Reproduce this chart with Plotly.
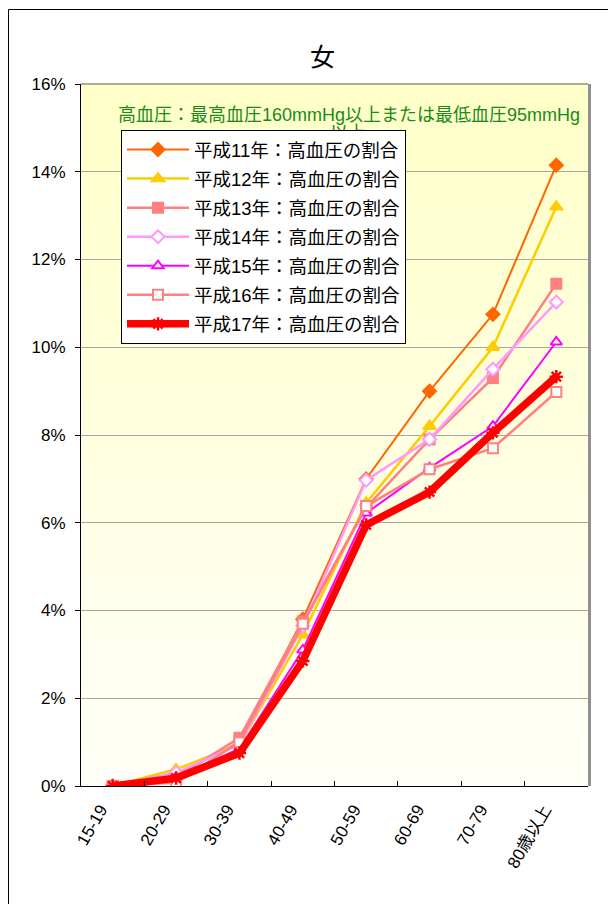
import plotly.graph_objects as go

ages = ["15-19", "20-29", "30-39", "40-49", "50-59", "60-69", "70-79", "80歳以上"]
h11 = [0.0, 0.25, 1.0, 3.8, 7.0, 9.0, 10.75, 14.15]
h12 = [0.0, 0.38, 0.95, 3.45, 6.45, 8.2, 10.0, 13.2]
h13 = [0.0, 0.2, 1.1, 3.75, 6.35, 7.9, 9.3, 11.45]
h14 = [0.0, 0.3, 0.95, 3.65, 6.97, 7.9, 9.5, 11.03]
h15 = [0.0, 0.2, 0.85, 3.1, 6.22, 7.25, 8.2, 10.12]
h16 = [0.0, 0.08, 1.0, 3.7, 6.38, 7.22, 7.7, 8.98]
h17 = [0.0, 0.18, 0.75, 2.85, 5.95, 6.7, 8.05, 9.33]
names = ["平成11年：高血圧の割合", "平成12年：高血圧の割合", "平成13年：高血圧の割合",
         "平成14年：高血圧の割合", "平成15年：高血圧の割合", "平成16年：高血圧の割合",
         "平成17年：高血圧の割合"]
y_ticks = [0, 2, 4, 6, 8, 10, 12, 14, 16]
y_ticktext = ["0%", "2%", "4%", "6%", "8%", "10%", "12%", "14%", "16%"]
note_line1 = "高血圧：最高血圧160mmHg以上または最低血圧95mmHg"
note_line2 = "以上"

FONT = "Liberation Sans, Arial, Noto Sans CJK JP, sans-serif"

styles = [
    dict(color="#FF6600", width=2, symbol="diamond", size=10, fill="#FF6600"),
    dict(color="#FFCC00", width=2.5, symbol="triangle-up", size=11, fill="#FFCC00"),
    dict(color="#FF8080", width=2.5, symbol="square", size=10, fill="#FF8080"),
    dict(color="#FF99FF", width=2.5, symbol="diamond", size=10, fill="#FFFFFF"),
    dict(color="#FF00FF", width=2, symbol="triangle-up", size=10, fill="#FFFFFF"),
    dict(color="#FF8080", width=2.5, symbol="square", size=10, fill="#FFFFFF"),
    dict(color="#FF0000", width=7.5, symbol="asterisk-open", size=11, fill="#FF0000"),
]
series = [h11, h12, h13, h14, h15, h16, h17]

L, R, T, B = 81, 20, 84, 118
W, H = 608, 904
pw, ph = W - L - R, H - T - B


def px(xp):
    return (xp - L) / pw


def py(yp):
    return (H - B - yp) / ph


fig = go.Figure()
# second line of the note, drawn as a trace so that the legend covers it
fig.add_trace(go.Scatter(
    x=[px(348)], y=[py(134)], mode="text", text=[note_line2], showlegend=False,
    textfont=dict(size=18, family=FONT, color="#1A8A1A"), hoverinfo="skip",
    xaxis="x2", yaxis="y2", cliponaxis=False,
))
for i, (vals, nm, st) in enumerate(zip(series, names, styles)):
    fig.add_trace(go.Scatter(
        x=ages, y=vals, name=nm, mode="lines+markers", legendgroup=str(i),
        line=dict(color=st["color"], width=st["width"]),
        marker=dict(symbol=st["symbol"], size=st["size"], color=st["fill"],
                    line=dict(color=st["color"], width=2.5 if i == 6 else 2)),
    ))

shapes = []
# gradient background
n = 60
top = (255, 255, 200)
bot = (255, 255, 248)
for k in range(n):
    t = (k + 0.5) / n
    c = tuple(round(bot[j] + (top[j] - bot[j]) * t) for j in range(3))
    shapes.append(dict(type="rect", xref="paper", yref="paper", x0=0, x1=1,
                       y0=k / n, y1=(k + 1) / n + 0.002, layer="below",
                       line=dict(width=0), fillcolor="rgb(%d,%d,%d)" % c))
# plot area top and right border
shapes.append(dict(type="line", xref="paper", yref="paper", x0=0, x1=1, y0=1, y1=1,
                   line=dict(color="#909090", width=1.5)))
shapes.append(dict(type="line", xref="paper", yref="paper", x0=1.003, x1=1.003, y0=0, y1=1,
                   line=dict(color="#909090", width=3)))
# outer chart frame
shapes.append(dict(type="rect", xref="paper", yref="paper", x0=px(8.5), x1=px(640),
                   y0=py(940), y1=py(9.5), line=dict(color="black", width=1),
                   fillcolor="rgba(0,0,0,0)"))

fig.update_layout(
    width=W, height=H,
    margin=dict(l=L, r=R, t=T, b=B),
    paper_bgcolor="white",
    plot_bgcolor="rgba(0,0,0,0)",
    font=dict(family=FONT, size=16, color="black"),
    showlegend=True,
    legend=dict(x=px(121), y=py(130), xanchor="left", yanchor="top",
                bgcolor="white", bordercolor="black", borderwidth=1,
                font=dict(size=18.5, family=FONT), tracegroupgap=2, itemwidth=62),
    shapes=shapes,
    annotations=[
        dict(text="女", xref="paper", yref="paper", x=px(322), y=py(57),
             xanchor="center", yanchor="middle",
             showarrow=False, font=dict(size=25, family=FONT)),
        dict(text=note_line1, xref="paper", yref="paper", x=px(349), y=py(115),
             xanchor="center", yanchor="middle", showarrow=False,
             font=dict(size=18, family=FONT, color="#1A8A1A")),
    ],
    xaxis=dict(type="category", showline=True, linecolor="black", linewidth=1,
               ticks="inside", tickson="boundaries", ticklen=5, tickcolor="black",
               tickangle=-60, showgrid=False, range=[-0.5, 7.5],
               tickfont=dict(size=17, family=FONT), ticklabelstandoff=6,
               ticklabelshift=-12),
    yaxis=dict(range=[0, 16], tickvals=y_ticks, ticktext=y_ticktext, showline=True,
               linecolor="black", linewidth=1, ticks="outside", ticklen=5,
               tickcolor="black", showgrid=True, gridcolor="#A8A8A8", gridwidth=1,
               zeroline=False, tickfont=dict(size=17, family=FONT), ticklabelstandoff=6),
    xaxis2=dict(overlaying="x", range=[0, 1], visible=False),
    yaxis2=dict(overlaying="y", range=[0, 1], visible=False),
)

fig.write_html("out.html", config={"displayModeBar": False},
               post_script="document.body.style.margin='0';")
